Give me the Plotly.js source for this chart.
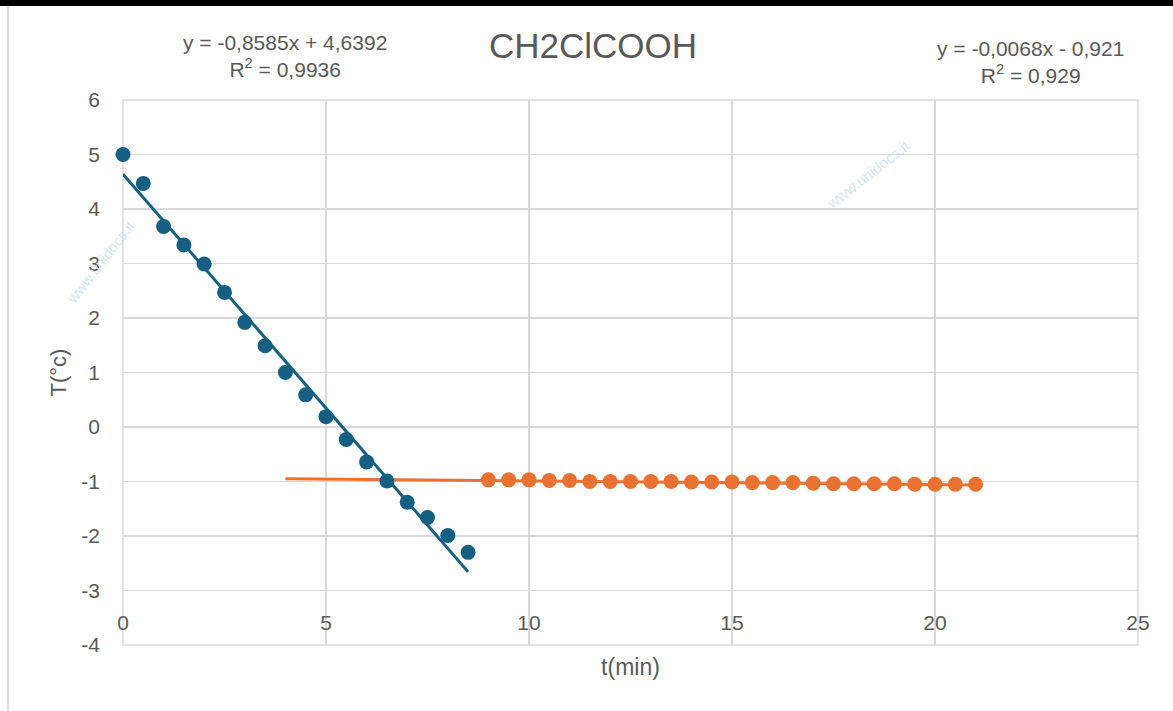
<!DOCTYPE html>
<html>
<head>
<meta charset="utf-8">
<script src="https://cdn.plot.ly/plotly-3.0.1.min.js"></script>
<style>html,body{margin:0;padding:0;background:#fff;}</style>
</head>
<body>
<div id="chart" style="width:1173px;height:711px;"></div>
<script>
// Data
const blueX = [0,0.5,1,1.5,2,2.5,3,3.5,4,4.5,5,5.5,6,6.5,7,7.5,8,8.5];
const blueY = [5.00,4.47,3.68,3.34,2.99,2.47,1.92,1.49,1.00,0.59,0.19,-0.23,-0.64,-0.99,-1.38,-1.66,-1.99,-2.30];
const orangeX = [9,9.5,10,10.5,11,11.5,12,12.5,13,13.5,14,14.5,15,15.5,16,16.5,17,17.5,18,18.5,19,19.5,20,20.5,21];
const orangeY = [-0.97,-0.97,-0.97,-0.98,-0.98,-1.00,-1.00,-1.00,-1.00,-1.00,-1.01,-1.01,-1.01,-1.02,-1.02,-1.02,-1.03,-1.04,-1.04,-1.04,-1.04,-1.05,-1.05,-1.05,-1.05];
// Trendlines as displayed: [slope, intercept], x-span
const blueFit = [-0.8585, 4.6392];
const blueFitX = [0, 8.5];
const orangeFit = [-0.0068, -0.921];
const orangeFitX = [4, 21];
const xTicks = [0,5,10,15,20,25];
const yTicks = [-4,-3,-2,-1,0,1,2,3,4,5,6];

const BLUE = '#156082', ORANGE = '#E97132', TXT = '#595959', GRID = '#d9d9d9';
const FONT = '"Liberation Sans", Arial, sans-serif';

const traces = [
  {x: blueFitX, y: blueFitX.map(v => blueFit[0]*v + blueFit[1]), mode:'lines',
   line:{color:BLUE, width:3}, hoverinfo:'skip', cliponaxis:false},
  {x: orangeFitX, y: orangeFitX.map(v => orangeFit[0]*v + orangeFit[1]), mode:'lines',
   line:{color:ORANGE, width:3}, hoverinfo:'skip', cliponaxis:false},
  {x: blueX, y: blueY, mode:'markers', marker:{color:BLUE, size:15}, cliponaxis:false},
  {x: orangeX, y: orangeY, mode:'markers', marker:{color:ORANGE, size:15}, cliponaxis:false}
];

const layout = {
  width:1173, height:711,
  margin:{l:123, r:35, t:100, b:66},
  paper_bgcolor:'#fff', plot_bgcolor:'#fff',
  showlegend:false,
  font:{family:FONT, color:TXT, size:21},
  title:{text:'CH2ClCOOH', x:0.5055, xref:'container', y:0.935, yref:'container',
         yanchor:'middle', xanchor:'center', font:{size:35, color:TXT, family:FONT}},
  xaxis:{range:[0,25], tickvals:xTicks, ticktext:xTicks.map(String),
         anchor:'free', position:(645-606)/545,
         showgrid:true, gridcolor:GRID, gridwidth:1.5, zeroline:false, showline:false,
         ticks:'', ticklabelstandoff:2,
         tickfont:{size:21, color:TXT},
         title:{text:'t(min)', font:{size:23, color:TXT}, standoff:25}},
  yaxis:{range:[-4,6], tickvals:yTicks, ticktext:yTicks.map(String),
         showgrid:true, gridcolor:GRID, gridwidth:1.5, zeroline:false, showline:false,
         ticks:'', ticklabelstandoff:22,
         tickfont:{size:21, color:TXT},
         title:{text:'T(°c)', font:{size:22, color:TXT}, standoff:8}},
  annotations:[
    {xref:'paper', yref:'paper', x:0.1596, y:1.0807, xanchor:'center', yanchor:'middle',
     showarrow:false, align:'center', font:{size:21, color:TXT},
     text:'y = -0,8585x + 4,6392<br>R<sup>2</sup> = 0,9936'},
    {xref:'paper', yref:'paper', x:0.8936, y:1.0697, xanchor:'center', yanchor:'middle',
     showarrow:false, align:'center', font:{size:21, color:TXT},
     text:'y = -0,0068x - 0,921<br>R<sup>2</sup> = 0,929'},
    {xref:'paper', yref:'paper', x:(100-123)/1015, y:(645-262)/545, xanchor:'center', yanchor:'middle',
     showarrow:false, textangle:-52, font:{size:15, color:'#d6e5f4'}, text:'www.unidocs.it'},
    {xref:'paper', yref:'paper', x:(868-123)/1015, y:(645-175)/545, xanchor:'center', yanchor:'middle',
     showarrow:false, textangle:-38, font:{size:15, color:'#d6e5f4'}, text:'www.unidocs.it'}
  ],
  shapes:[
    {type:'rect', xref:'paper', yref:'paper', x0:0, x1:1, y0:0, y1:1,
     line:{color:GRID, width:1.5}, layer:'below'},
    {type:'rect', xref:'paper', yref:'paper', x0:-0.2, x1:1.1, y0:(645-0)/545, y1:(645-6)/545,
     fillcolor:'#000', line:{width:0}, layer:'above'},
    {type:'line', xref:'paper', yref:'paper', x0:(8-123)/1015, x1:(8-123)/1015, y0:(645-6)/545, y1:(645-711)/545,
     line:{color:'#d0d0d0', width:1.5}}
  ]
};

Plotly.newPlot('chart', traces, layout, {displayModeBar:false, staticPlot:true});
</script>
</body>
</html>
